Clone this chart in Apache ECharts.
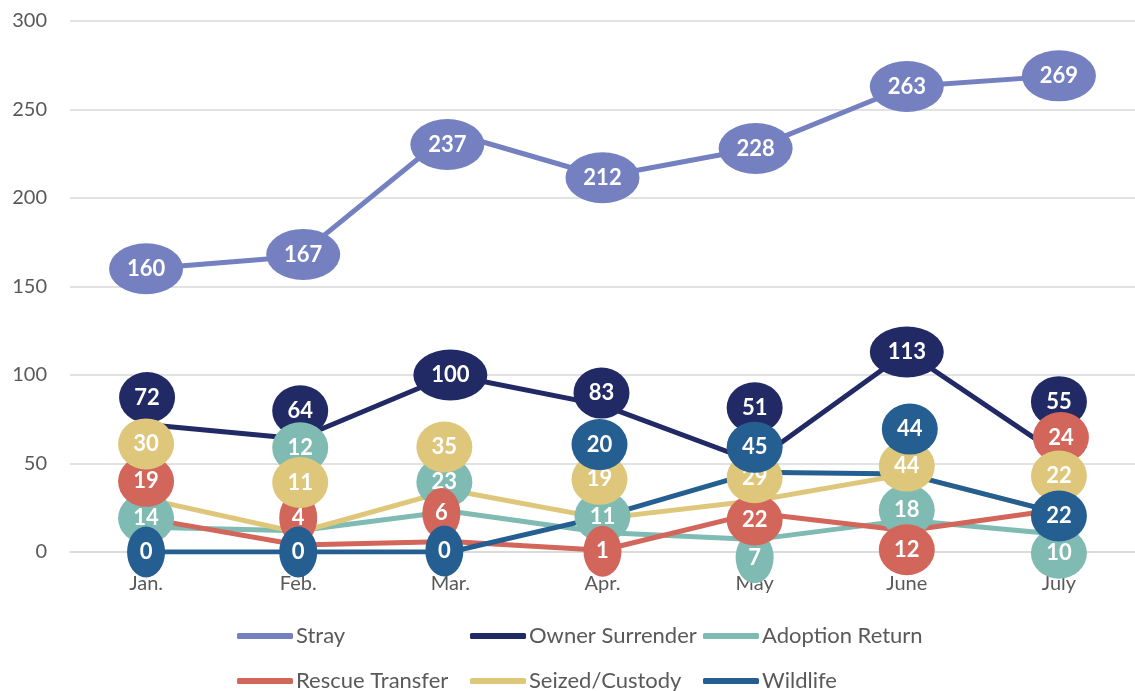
<!DOCTYPE html>
<html>
<head>
<meta charset="utf-8">
<script src="https://cdn.jsdelivr.net/npm/echarts@6/dist/echarts.min.js"></script>
<style>
html,body{margin:0;padding:0;background:#fff;}
#chart{width:1135px;height:691px;}
</style>
</head>
<body>
<div id="chart"></div>
<script>
// ---- data ----
const categories = ['Jan.', 'Feb.', 'Mar.', 'Apr.', 'May', 'June', 'July'];
const seriesNames = ['Stray', 'Owner Surrender', 'Adoption Return', 'Rescue Transfer', 'Seized/Custody', 'Wildlife'];
const stray = [160, 167, 237, 212, 228, 263, 269];
const ownerSurrender = [72, 64, 100, 83, 51, 113, 55];
const adoptionReturn = [14, 12, 23, 11, 7, 18, 10];
const rescueTransfer = [19, 4, 6, 1, 22, 12, 24];
const seizedCustody = [30, 11, 35, 19, 29, 44, 22];
const wildlife = [0, 0, 0, 20, 45, 44, 22];
const yMin = 0, yMax = 300, yStep = 50;

// ---- styling ----
const values = [stray, ownerSurrender, adoptionReturn, rescueTransfer, seizedCustody, wildlife];
const colors = ['#7480C0', '#222A66', '#7FBAB3', '#D2665A', '#DEC77A', '#255E90'];
// data-label bubble displacement (pixels) relative to each point, as placed in the original
const labelShift = [
  [[0,0],[5,-2],[-3,12],[0,1],[1,0],[0,0],[0,0]],
  [[1,-27],[2,-28],[0,0],[-1,-12],[0,-54],[0,0],[0,-53]],
  [[0,-9],[2,-83],[-6,-29],[0,-16],[0,18],[0,-10],[0,19]],
  [[0,-37],[0,-27],[-9,-28],[0,1],[0,7],[0,19],[2,-72]],
  [[0,-55],[2,-50],[-6,-43],[-3,-39],[0,-23],[0,-8],[0,-37]],
  [[0,0],[0,0],[-6,-1],[-3,-72],[0,-25],[3,-45],[0,3]]
];
const ellipse = 'path://M0,50A50,50 0 1,1 100,50A50,50 0 1,1 0,50Z';
const FONT = 'Lato';

const lineSeries = seriesNames.map((name, s) => ({
  name: name,
  type: 'line',
  data: values[s],
  color: colors[s],
  showSymbol: false,
  symbol: 'none',
  lineStyle: { width: 5, color: colors[s] },
  z: 2,
  silent: true
}));

const bubbleSeries = seriesNames.map((name, s) => ({
  name: name + ' label',
  type: 'scatter',
  z: 10 + s,
  silent: true,
  data: values[s].map((v, i) => ({
    value: v,
    symbolOffset: labelShift[s][i],
    symbolSize: [20 + 18 * String(v).length, 51]
  })),
  symbol: ellipse,
  itemStyle: { color: colors[s], opacity: 1 },
  label: {
    show: true,
    position: 'inside',
    color: '#FFFFFF',
    fontFamily: FONT,
    fontWeight: 'bold',
    fontSize: 22
  }
}));

// legend slots: [name, left, top]
const legendSlots = [
  ['Stray', 237, 624], ['Owner Surrender', 470, 624], ['Adoption Return', 703, 624],
  ['Rescue Transfer', 237, 669], ['Seized/Custody', 470, 669], ['Wildlife', 703, 669]
];
const legends = legendSlots.map(([name, left, top]) => ({
  orient: 'horizontal',
  icon: 'roundRect',
  itemWidth: 56,
  itemHeight: 6,
  left: left,
  top: top,
  padding: 0,
  selectedMode: false,
  data: [name],
  textStyle: { color: '#595959', fontFamily: FONT, fontSize: 22, lineHeight: 24, padding: [0, 0, 0, -2] }
}));

const option = {
  animation: false,
  backgroundColor: '#FFFFFF',
  grid: { left: 70, right: -3, top: 21, bottom: 139, containLabel: false },
  legend: legends,
  xAxis: {
    type: 'category',
    data: categories,
    boundaryGap: true,
    axisLine: { show: true, lineStyle: { color: '#D9D9D9', width: 1.5 } },
    axisTick: { show: false },
    axisLabel: { color: '#595959', fontFamily: FONT, fontSize: 20, margin: 22 }
  },
  yAxis: {
    type: 'value',
    min: yMin,
    max: yMax,
    interval: yStep,
    axisLine: { show: false },
    axisTick: { show: false },
    splitLine: { lineStyle: { color: '#D9D9D9', width: 1.5 } },
    axisLabel: { color: '#595959', fontFamily: FONT, fontSize: 20, margin: 23 }
  },
  series: lineSeries.concat(bubbleSeries)
};

const chart = echarts.init(document.getElementById('chart'), null, { renderer: 'canvas' });
chart.setOption(option);
</script>
</body>
</html>
